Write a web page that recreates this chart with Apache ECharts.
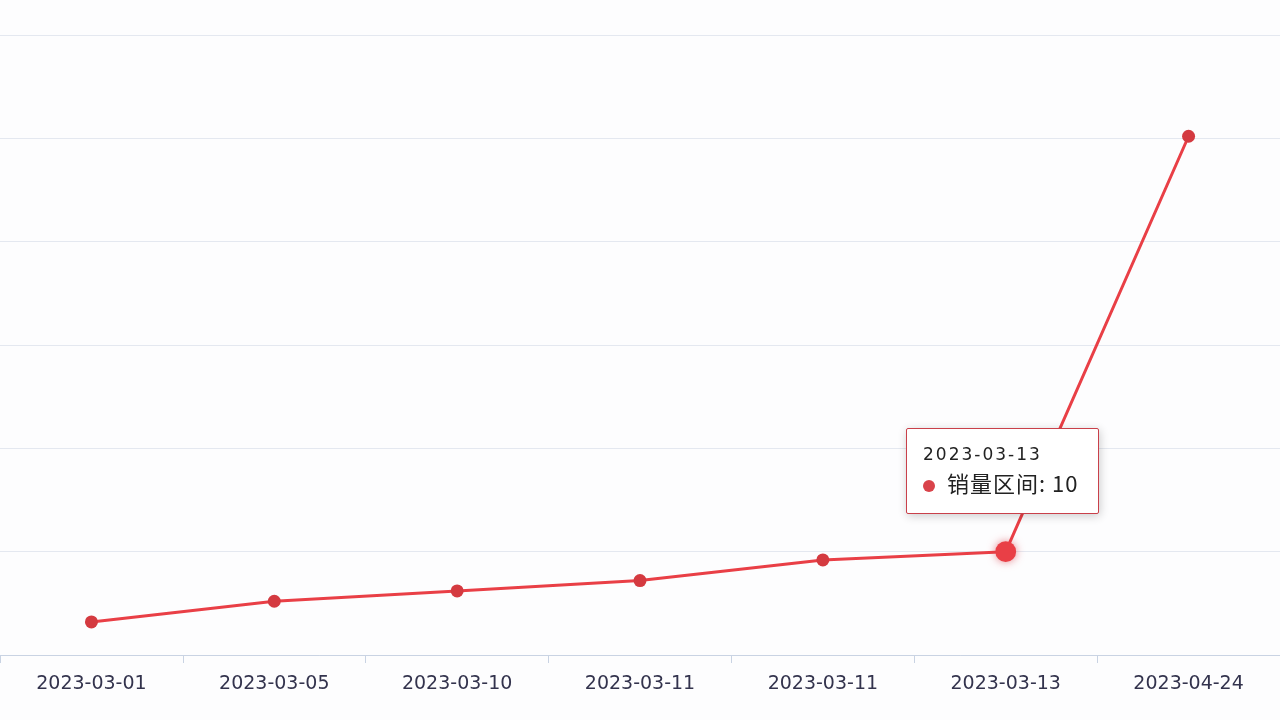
<!DOCTYPE html>
<html>
<head>
    <meta charset="utf-8">
    <script src="https://cdn.jsdelivr.net/npm/echarts@6/dist/echarts.min.js"></script>
    <style>
        html, body { margin: 0; padding: 0; background: #fdfdfe; }
        #main { width: 1280px; height: 720px; }
    </style>
</head>
<body>
    <div id="main"></div>
    <script type="text/javascript">
        var dates = ['2023-03-01', '2023-03-05', '2023-03-10', '2023-03-11', '2023-03-11', '2023-03-13', '2023-04-24'];
        var tipDates = ['2023-03-01', '2023-03-05', '2023-03-10', '2023-03-11', '2023-03-11', '2023-03-13', '2023-04-24'];
        var sales = [3.2, 5.2, 6.2, 7.2, 9.2, 10, 50.2];
        var seriesName = '销量区间';

        var myChart = echarts.init(document.getElementById('main'));
        myChart.setOption({
            animation: false,
            grid: { left: -7, right: -6, top: 35, bottom: 65 },
            tooltip: {
                trigger: 'item',
                backgroundColor: '#fff',
                borderColor: '#c9404a',
                borderWidth: 1,
                borderRadius: 2,
                padding: [14, 20, 14, 16],
                textStyle: { color: '#222', fontFamily: 'Noto Sans CJK SC' },
                position: function (point) { return [point[0] - 100, point[1] - 124]; },
                formatter: function (p) {
                    return '<div style="font-size:17px;letter-spacing:2px;line-height:22px;font-family:DejaVu Sans">' + tipDates[p.dataIndex] + '</div>' +
                        '<div style="font-size:22px;line-height:34px;letter-spacing:1px"><span style="display:inline-block;width:12px;height:12px;border-radius:6px;background:#d9434a;margin-right:12px"></span>' +
                        seriesName + ': ' + p.value + '</div>';
                }
            },
            xAxis: {
                type: 'category',
                data: dates,
                axisLine: { lineStyle: { color: '#c9d3e3' } },
                axisTick: { show: true, length: 8, lineStyle: { color: '#c9d3e3' } },
                axisLabel: { color: '#33334d', fontSize: 19, margin: 20, fontFamily: 'DejaVu Sans', letterSpacing: 2.5 }
            },
            yAxis: {
                type: 'value',
                min: 0, max: 60, interval: 10,
                axisLabel: { show: false },
                splitLine: { lineStyle: { color: '#e4e8f0' } }
            },
            series: [{
                name: seriesName,
                type: 'line',
                data: sales,
                symbol: 'circle',
                symbolSize: 13,
                itemStyle: { color: '#d43a40' },
                lineStyle: { width: 3, color: '#d43a40' },
                emphasis: { scale: 1.6, itemStyle: { shadowBlur: 8, shadowColor: 'rgba(217,52,63,0.6)' } }
            }]
        });
        myChart.dispatchAction({ type: 'showTip', seriesIndex: 0, dataIndex: 5 });
        myChart.dispatchAction({ type: 'highlight', seriesIndex: 0, dataIndex: 5 });
    </script>
</body>
</html>
